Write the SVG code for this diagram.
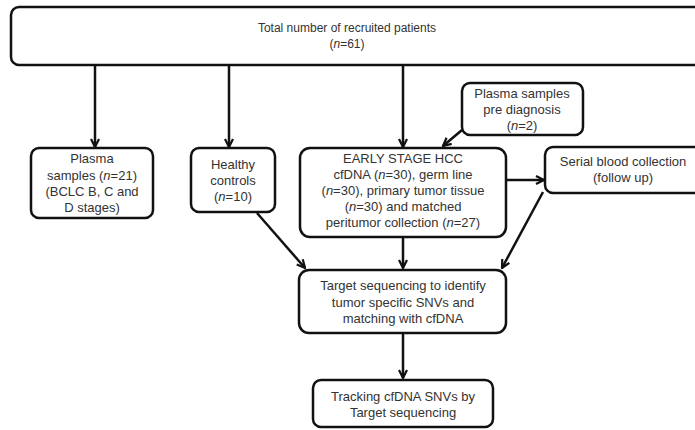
<svg xmlns="http://www.w3.org/2000/svg" width="695" height="430" viewBox="0 0 695 430">
<defs>
<style>
.box{fill:#fff;stroke:#111;stroke-width:2.5}
text{font-family:"Liberation Sans",Arial,sans-serif;font-size:13px;fill:#333;text-anchor:middle}
.t12{font-size:12px}
.c{fill:none;stroke:#111;stroke-width:2.5}
</style>
<marker id="ah" viewBox="0 0 10 10" refX="9" refY="5" markerWidth="10" markerHeight="10" markerUnits="userSpaceOnUse" orient="auto">
<path d="M1,1 L9,5 L1,9" fill="none" stroke="#111" stroke-width="2.2"/>
</marker>
</defs>
<rect width="695" height="430" fill="#fff"/>
<g id="connectors">
<line class="c" x1="95" y1="65" x2="95" y2="147" marker-end="url(#ah)"/>
<line class="c" x1="229" y1="65" x2="229" y2="147" marker-end="url(#ah)"/>
<line class="c" x1="403" y1="65" x2="403" y2="147" marker-end="url(#ah)"/>
<line class="c" x1="462" y1="130" x2="443" y2="146" marker-end="url(#ah)"/>
<line class="c" x1="506" y1="180" x2="544" y2="180" marker-end="url(#ah)"/>
<line class="c" x1="257" y1="213" x2="305" y2="268" marker-end="url(#ah)"/>
<line class="c" x1="403" y1="237" x2="403" y2="268" marker-end="url(#ah)"/>
<line class="c" x1="543" y1="192" x2="502" y2="268" marker-end="url(#ah)"/>
<line class="c" x1="403" y1="333" x2="403" y2="378" marker-end="url(#ah)"/>
</g>
<g id="total">
<rect class="box" x="11" y="7" width="695" height="58" rx="8"/>
<text class="t12" x="347" y="32">Total number of recruited patients</text>
<text class="t12" x="347" y="48">(<tspan font-style="italic">n</tspan>=61)</text>
</g>
<g id="plasma">
<rect class="box" x="31" y="148" width="122" height="70" rx="8"/>
<text x="92" y="163">Plasma</text>
<text x="92" y="180">samples (<tspan font-style="italic">n</tspan>=21)</text>
<text x="92" y="196">(BCLC B, C and</text>
<text x="92" y="212">D stages)</text>
</g>
<g id="healthy">
<rect class="box" x="191" y="148" width="84" height="64" rx="8"/>
<text x="233" y="169">Healthy</text>
<text x="233" y="185">controls</text>
<text x="233" y="201">(<tspan font-style="italic">n</tspan>=10)</text>
</g>
<g id="early">
<rect class="box" x="300" y="148" width="206" height="89" rx="10"/>
<text x="403" y="163">EARLY STAGE HCC</text>
<text x="403" y="179">cfDNA (<tspan font-style="italic">n</tspan>=30), germ line</text>
<text x="403" y="195">(<tspan font-style="italic">n</tspan>=30), primary tumor tissue</text>
<text x="403" y="211">(<tspan font-style="italic">n</tspan>=30) and matched</text>
<text x="403" y="227">peritumor collection (<tspan font-style="italic">n</tspan>=27)</text>
</g>
<g id="prediag">
<rect class="box" x="462" y="83" width="121" height="52" rx="8"/>
<text x="522" y="98">Plasma samples</text>
<text x="522" y="114">pre diagnosis</text>
<text x="522" y="130">(<tspan font-style="italic">n</tspan>=2)</text>
</g>
<g id="serial">
<rect class="box" x="545" y="147" width="160" height="46" rx="8"/>
<text x="623" y="166">Serial blood collection</text>
<text x="623" y="182">(follow up)</text>
</g>
<g id="target">
<rect class="box" x="299" y="270" width="207" height="63" rx="10"/>
<text x="403" y="290">Target sequencing to identify</text>
<text x="403" y="307">tumor specific SNVs and</text>
<text x="403" y="323">matching with cfDNA</text>
</g>
<g id="tracking">
<rect class="box" x="313" y="380" width="180" height="47" rx="8"/>
<text x="403" y="401">Tracking cfDNA SNVs by</text>
<text x="403" y="417">Target sequencing</text>
</g>
</svg>
